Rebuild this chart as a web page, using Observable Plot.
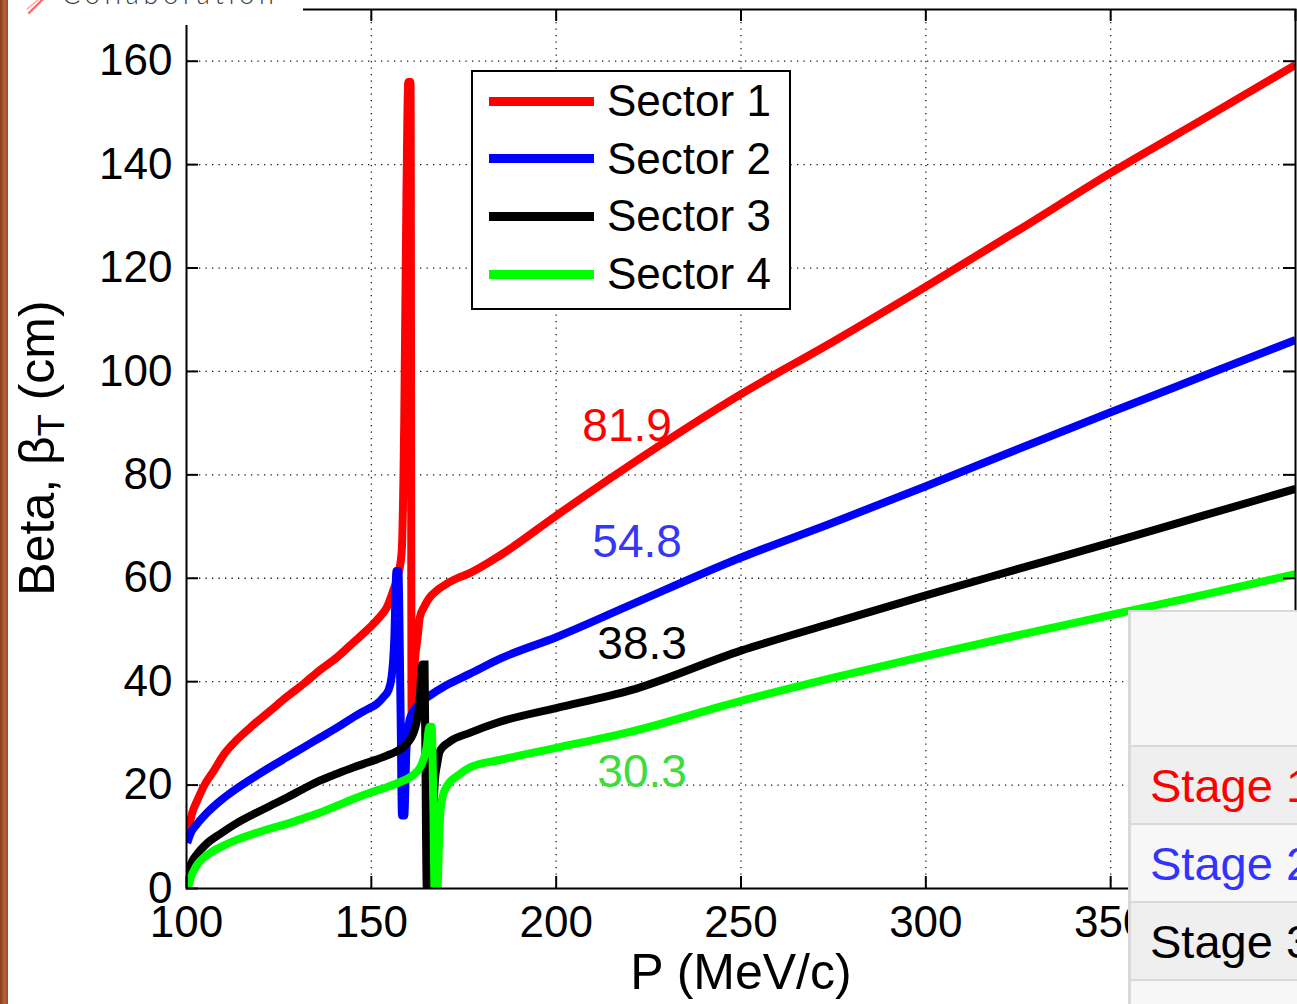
<!DOCTYPE html>
<html>
<head>
<meta charset="utf-8">
<script src="https://cdn.jsdelivr.net/npm/d3@7"></script>
<script src="https://cdn.jsdelivr.net/npm/@observablehq/plot@0.6"></script>
<style>
  html, body { margin: 0; padding: 0; background: #fff; }
  #page { position: relative; width: 1297px; height: 1004px; overflow: hidden; background: #fff;
          font-family: "Liberation Sans", Arial, Helvetica, sans-serif; }
  #chart { position: absolute; left: 0; top: 0; }
  #strip { position: absolute; left: 0; top: 0; width: 8px; height: 1004px;
           background: linear-gradient(to right, #873b1f, #b8633a 55%, #9b4929); }
  #logo { position: absolute; left: 8px; top: 0; width: 295px; height: 25px; background: #fff; }
  #legend { position: absolute; left: 471px; top: 70px; width: 320px; height: 240px; box-sizing: border-box;
            border: 2px solid #000; background: #fff; }
  .entry { position: absolute; left: 0; height: 0; }
  .swatch { position: absolute; left: 16px; width: 105px; height: 9px; margin-top: -4.5px; }
  .entry span { position: absolute; left: 134px; top: 0; transform: translateY(-50%); font-size: 44px;
                line-height: 1; white-space: nowrap; color: #000; }
  #table { position: absolute; left: 1128px; top: 610px; width: 420px; box-sizing: border-box;
           border-left: 3px solid #d9d9d9; border-top: 2px solid #d9d9d9; }
  #table .head { height: 133px; background: #f7f7f7; }
  #table .row { height: 76px; border-top: 2px solid #d9d9d9; font-size: 47px; line-height: 78px;
                padding-left: 19px; white-space: nowrap; font-family: "Liberation Sans", Arial, sans-serif; }
</style>
</head>
<body>
<div id="page">
  <div id="chart"></div>
  <div id="strip"></div>
  <div id="logo">
    <svg width="295" height="25">
      <path d="M34,0 L21,13" stroke="#ff4a4a" stroke-width="2.2" stroke-linecap="round" opacity="0.85"/>
      <path d="M30,0 L19,9" stroke="#ff9a9a" stroke-width="1.2" stroke-linecap="round"/>
      <text x="54" y="4" font-family="Lato, 'Open Sans', sans-serif" font-weight="300" font-size="27"
            letter-spacing="4.7" fill="#3a3a3a">Collaboration</text>
    </svg>
  </div>
  <div id="legend"></div>
  <div id="table"></div>
</div>
<script>
// Transverse beta function vs. momentum for the four sectors
const sectors = ["Sector 1", "Sector 2", "Sector 3", "Sector 4"];
const sectorColors = ["#ff0000", "#0000ff", "#000000", "#00ff00"];

const sector1P = [100.3, 101.5, 102.9, 105, 107.4, 110, 113.7, 118, 122.7, 127, 131.7, 136, 140.7, 145, 149.6, 152, 154.2, 155.9, 157.2, 158.2, 158.9, 159.5, 160.0, 160.6, 160.9, 161.4, 161.9, 162.5, 163.1, 164.3, 165.8, 168, 170.3, 173.9, 176.6, 185, 200, 220, 250, 275, 300, 325, 350, 375, 400];
const sector1Beta = [10.5, 14.5, 17.0, 20.2, 22.8, 25.8, 28.8, 31.6, 34.4, 37.0, 39.6, 42.2, 44.7, 47.5, 50.5, 52.3, 54.4, 57.6, 60.5, 65.0, 90.0, 134.0, 156.0, 156.0, 33.0, 40.0, 45.0, 48.5, 52.4, 54.5, 56.3, 57.8, 58.9, 60.2, 61.0, 64.5, 72.1, 81.9, 95.6, 105.8, 116.4, 127.3, 138.4, 148.8, 159.3];

const sector2P = [100.2, 101, 102.9, 105.5, 109.2, 113.5, 118.2, 122.7, 127.2, 131.7, 136.2, 140.7, 145.1, 148.5, 151.5, 153.5, 154.6, 155.5, 156.2, 156.8, 157.3, 157.9, 158.3, 158.9, 159.5, 160.3, 161.3, 163, 165.8, 170.3, 176.6, 185, 200, 220, 250, 275, 300, 325, 350, 375, 400];
const sector2Beta = [8.8, 10.5, 12.5, 14.6, 17.0, 19.3, 21.5, 23.5, 25.4, 27.3, 29.2, 31.1, 33.1, 34.5, 35.7, 37.2, 38.3, 41.0, 48.0, 61.4, 61.4, 35.0, 14.1, 14.1, 27.0, 32.5, 34.2, 35.8, 37.3, 39.3, 41.5, 44.5, 48.6, 54.8, 64.0, 70.8, 77.8, 85.0, 92.1, 99.1, 106.1];

const sector3P = [100.3, 100.6, 101.5, 102.9, 105.5, 109.2, 113.5, 118.2, 122.7, 127.2, 131.7, 136.2, 140.7, 145.1, 149.6, 154.2, 156.5, 158.6, 160.2, 161.3, 162.2, 162.9, 163.8, 164.4, 164.8, 165.0, 165.9, 166.6, 167.2, 167.8, 168.5, 171.2, 176.6, 185, 200, 220, 250, 275, 300, 325, 350, 375, 400];
const sector3Beta = [2.5, 3.5, 5.2, 6.7, 8.7, 10.6, 12.6, 14.4, 16.0, 17.6, 19.3, 20.9, 22.2, 23.4, 24.5, 25.7, 26.4, 27.3, 28.5, 29.9, 32.0, 35.0, 43.3, 43.3, 10.0, 0, 0, 12.0, 21.0, 24.0, 26.5, 28.4, 30.1, 32.3, 34.9, 38.3, 46.0, 51.4, 56.7, 61.8, 66.9, 72.1, 77.3];

const sector4P = [100.3, 100.6, 101.2, 102, 103.2, 104.7, 106.8, 109.2, 113.5, 118.2, 122.7, 127.2, 131.7, 136.2, 140.7, 145.1, 149.6, 154.2, 157.5, 160.4, 162.2, 163.6, 165.0, 165.7, 166.3, 166.8, 167.1, 167.9, 168.3, 168.7, 169.3, 170.3, 173.9, 176.6, 185, 200, 220, 250, 275, 300, 325, 350, 375, 400];
const sector4Beta = [0, 0.6, 2.2, 3.5, 4.9, 6.0, 7.1, 8.0, 9.4, 10.6, 11.6, 12.5, 13.6, 14.7, 16.0, 17.3, 18.5, 19.6, 20.5, 21.5, 22.5, 24.0, 27.5, 31.3, 31.3, 15.0, 0, 0, 9.0, 15.0, 17.8, 19.6, 22.1, 23.4, 24.9, 27.2, 30.3, 36.3, 40.8, 45.0, 49.0, 52.9, 56.8, 60.8];

// Beta values quoted at P = 220 MeV/c
const labelP = 220;
const labelValues = [81.9, 54.8, 38.3, 30.3];
const labelColors = ["#ff0000", "#3636f8", "#000000", "#3ddc3d"];

const xTicks = [100, 150, 200, 250, 300, 350, 400];
const xTickLabels = [100, 150, 200, 250, 300, 350];
const yTicks = [0, 20, 40, 60, 80, 100, 120, 140, 160];

const stageNames = ["Stage 1", "Stage 2", "Stage 3", "Stage 4"];
const stageColors = ["#ff0000", "#3333ff", "#000000", "#00b050"];

const series = [[sector1P, sector1Beta], [sector2P, sector2Beta], [sector3P, sector3Beta], [sector4P, sector4Beta]];
const rows = series.flatMap(([ps, bs], i) => ps.map((p, j) => ({sector: sectors[i], P: p, beta: bs[j]})));

const W = 1297, H = 1004;
const mTop = 9, mRight = 2, mBottom = 116, mLeft = 186;
const innerW = W - mLeft - mRight, innerH = H - mTop - mBottom;
const tickLen = 12;
const fontFamily = "'Liberation Sans', Arial, Helvetica, sans-serif";
const dotted = {stroke: "#1a1a1a", strokeOpacity: 1, strokeWidth: 1.3, strokeDasharray: "1.3,5.2"};
const labelOffsets = [[-3, -39], [7, -63], [12, -46], [12, 40]];

const svg = Plot.plot({
  width: W, height: H,
  marginTop: mTop, marginRight: mRight, marginBottom: mBottom, marginLeft: mLeft,
  x: {domain: [100, 400], label: null},
  y: {domain: [0, 170], label: null},
  color: {domain: sectors, range: sectorColors},
  style: {fontFamily, fontSize: "44px", color: "#000", background: "transparent", overflow: "visible"},
  marks: [
    Plot.gridX(xTicks.slice(1, -1), dotted),
    Plot.gridY(yTicks.slice(1), dotted),
    Plot.line(rows, {x: "P", y: "beta", z: "sector", stroke: "sector", strokeWidth: 8, clip: true,
                     curve: "monotone-x", strokeLinejoin: "miter", strokeMiterlimit: 2, strokeLinecap: "butt"}),
    ...labelValues.map((v, i) => Plot.text([v], {
      x: () => labelP, y: d => d, text: d => d.toFixed(1), fill: labelColors[i],
      fontSize: 46, dx: labelOffsets[i][0], dy: labelOffsets[i][1]
    })),
    Plot.frame({stroke: "#000", strokeWidth: 2}),
    Plot.tickX(xTicks, {x: d => d, insetTop: innerH - tickLen, stroke: "#000", strokeWidth: 2}),
    Plot.tickX(xTicks, {x: d => d, insetBottom: innerH - tickLen, stroke: "#000", strokeWidth: 2}),
    Plot.tickY(yTicks, {y: d => d, insetRight: innerW - tickLen, stroke: "#000", strokeWidth: 2}),
    Plot.tickY(yTicks, {y: d => d, insetLeft: innerW - tickLen, stroke: "#000", strokeWidth: 2}),
    Plot.axisX(xTickLabels, {anchor: "bottom", tickSize: 0, tickPadding: 17, fontSize: 44, label: null}),
    Plot.axisY(yTicks, {anchor: "left", tickSize: 0, tickPadding: 14, fontSize: 44, label: null}),
    Plot.text(["P (MeV/c)"], {frameAnchor: "bottom", text: d => d, dy: 100, fontSize: 50})
  ]
});

// y-axis title with subscript
const yl = d3.select(svg).append("text")
  .attr("transform", "translate(54,448) rotate(-90)")
  .attr("text-anchor", "middle")
  .attr("font-size", 50)
  .attr("font-family", fontFamily)
  .attr("fill", "#000");
yl.append("tspan").text("Beta, β");
yl.append("tspan").attr("font-size", 36).attr("dy", 10).text("T");
yl.append("tspan").attr("dy", -10).text(" (cm)");

document.getElementById("chart").appendChild(svg);

// legend box
const legend = document.getElementById("legend");
sectors.forEach((s, i) => {
  const e = document.createElement("div");
  e.className = "entry";
  e.style.top = (29 + i * 57.7) + "px";
  e.style.width = "100%";
  e.innerHTML = `<div class="swatch" style="background:${sectorColors[i]}"></div><span>${s}</span>`;
  legend.appendChild(e);
});

// stage table in the lower right
const table = document.getElementById("table");
const head = document.createElement("div");
head.className = "head";
table.appendChild(head);
stageNames.forEach((s, i) => {
  const r = document.createElement("div");
  r.className = "row";
  r.style.background = i % 2 === 0 ? "#efefef" : "#f7f7f7";
  r.style.color = stageColors[i];
  r.textContent = s;
  table.appendChild(r);
});
</script>
</body>
</html>
